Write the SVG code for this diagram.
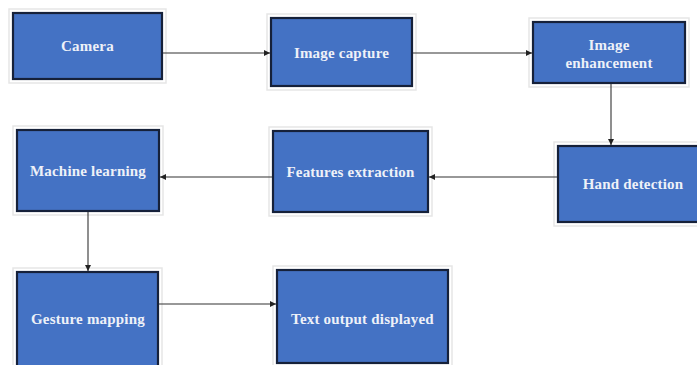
<svg xmlns="http://www.w3.org/2000/svg" width="697" height="365" viewBox="0 0 697 365">
<style>
.halo{fill:none;stroke:#e6e6e6;stroke-width:1.5}
.box{fill:#4472C4;stroke:#16213a;stroke-width:2.2}
.lbl{font-family:"Liberation Serif","Times New Roman",serif;font-weight:bold;font-size:15px;fill:#eef1f8;text-anchor:middle;letter-spacing:0.2px}
.con{stroke:#333;stroke-width:1.1;fill:none;marker-end:url(#ah)}
</style>
<defs>
<marker id="ah" viewBox="0 0 10 10" refX="10" refY="5" markerWidth="6" markerHeight="6" markerUnits="userSpaceOnUse" orient="auto">
<path d="M0,0 L10,5 L0,10 z" fill="#222"/>
</marker>
</defs>
<rect width="697" height="365" fill="#ffffff"/>
<g id="camera">
<rect class="halo" x="9" y="9" width="157" height="74"/>
<rect class="box" x="13" y="13" width="149" height="66"/>
<text class="lbl" x="87.5" y="51">Camera</text>
</g>
<g id="image-capture">
<rect class="halo" x="267" y="14" width="149" height="76"/>
<rect class="box" x="271" y="18" width="141" height="68"/>
<text class="lbl" x="341.5" y="58">Image capture</text>
</g>
<g id="image-enhancement">
<rect class="halo" x="529" y="18" width="160" height="69"/>
<rect class="box" x="533" y="22" width="152" height="61"/>
<text class="lbl" x="609" y="50">Image</text>
<text class="lbl" x="609" y="68">enhancement</text>
</g>
<g id="hand-detection">
<rect class="halo" x="554" y="142" width="160" height="84"/>
<rect class="box" x="558" y="146" width="152" height="76"/>
<text class="lbl" x="633" y="189">Hand detection</text>
</g>
<g id="features-extraction">
<rect class="halo" x="269" y="127" width="163" height="89"/>
<rect class="box" x="273" y="131" width="155" height="81"/>
<text class="lbl" x="350.5" y="177">Features extraction</text>
</g>
<g id="machine-learning">
<rect class="halo" x="13" y="126" width="150" height="89"/>
<rect class="box" x="17" y="130" width="142" height="81"/>
<text class="lbl" x="88" y="176">Machine learning</text>
</g>
<g id="gesture-mapping">
<rect class="halo" x="13" y="268" width="149" height="100"/>
<rect class="box" x="17" y="272" width="141" height="100"/>
<text class="lbl" x="88" y="324">Gesture mapping</text>
</g>
<g id="text-output">
<rect class="halo" x="273" y="266" width="179" height="100"/>
<rect class="box" x="277" y="270" width="171" height="93"/>
<text class="lbl" x="362.5" y="324">Text output displayed</text>
</g>
<g id="connectors">
<line class="con" x1="163" y1="53" x2="270" y2="53"/>
<line class="con" x1="413" y1="53" x2="532" y2="53"/>
<line class="con" x1="611" y1="84" x2="611" y2="145"/>
<line class="con" x1="557" y1="177" x2="429" y2="177"/>
<line class="con" x1="272" y1="177" x2="160" y2="177"/>
<line class="con" x1="88" y1="212" x2="88" y2="271"/>
<line class="con" x1="159" y1="304" x2="276" y2="304"/>
</g>
</svg>
